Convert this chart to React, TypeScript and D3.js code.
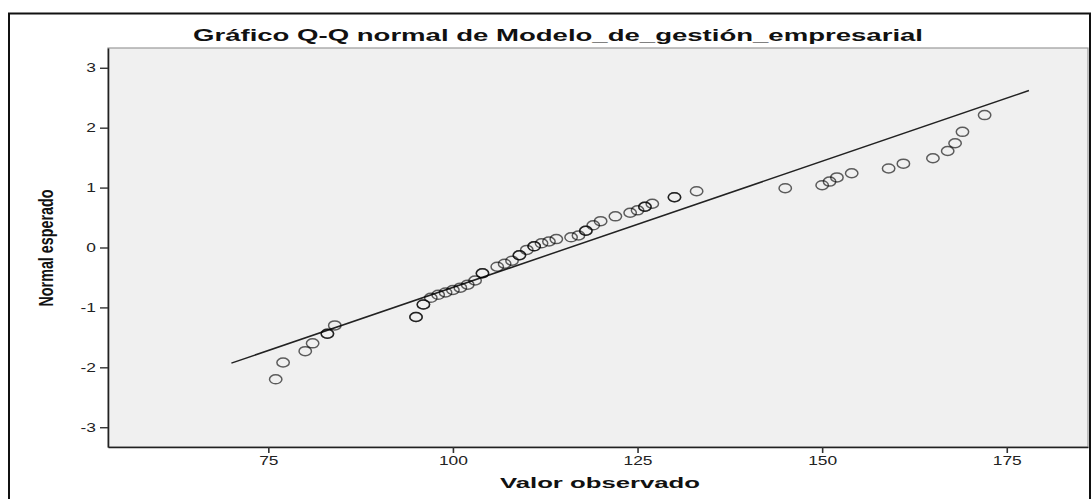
import * as d3 from "d3";
import { useEffect, useRef } from "react";

// values (ties repeated so they overdraw darker)
const observed = [
  76, 77, 80, 81, 83, 83, 84, 95, 95, 96, 96, 97, 98, 99, 100, 101, 102, 103,
  104, 104, 106, 107, 108, 109, 109, 110, 111, 111, 112, 113, 114, 116, 117,
  118, 118, 119, 120, 122, 124, 125, 126, 126, 127, 130, 130, 133, 145, 150,
  151, 152, 154, 159, 161, 165, 167, 168, 169, 172,
];
const expected = [
  -2.2, -1.92, -1.73, -1.6, -1.44, -1.44, -1.3, -1.16, -1.16, -0.95, -0.95,
  -0.84, -0.79, -0.75, -0.71, -0.67, -0.62, -0.55, -0.43, -0.43, -0.32, -0.27,
  -0.22, -0.13, -0.13, -0.04, 0.02, 0.02, 0.07, 0.1, 0.14, 0.17, 0.2, 0.28,
  0.28, 0.37, 0.44, 0.52, 0.58, 0.62, 0.68, 0.68, 0.73, 0.84, 0.84, 0.94, 0.99,
  1.04, 1.1, 1.17, 1.24, 1.32, 1.4, 1.49, 1.61, 1.74, 1.93, 2.21,
];
const refLineX = [70, 178];
const refLineY = [-1.93, 2.62];
const xTicks = [75, 100, 125, 150, 175];
const yTicks = [-3, -2, -1, 0, 1, 2, 3];

const title = "Gráfico Q-Q normal de Modelo_de_gestión_empresarial";
const xLabel = "Valor observado";
const yLabel = "Normal esperado";

const App = () => {
  const ref = useRef<SVGSVGElement>(null);

  useEffect(() => {
    const svg = d3.select(ref.current);
    svg.selectAll("*").remove();

    const left = 108,
      right = 1088,
      top = 48,
      bottom = 447;

    const x = d3.scaleLinear().domain([53.29, 186]).range([left, right]);
    const y = d3.scaleLinear().domain([-3.33, 3.33]).range([bottom, top]);

    // outer frame
    svg
      .append("rect")
      .attr("x", 9)
      .attr("y", 13.5)
      .attr("width", 1081)
      .attr("height", 500)
      .attr("fill", "white")
      .attr("stroke", "#111")
      .attr("stroke-width", 2);

    // title
    svg
      .append("text")
      .attr("x", 558)
      .attr("y", 41)
      .attr("text-anchor", "middle")
      .attr("font-family", "Liberation Sans, Arial, sans-serif")
      .attr("font-weight", "bold")
      .attr("font-size", 17)
      .attr("textLength", 730)
      .attr("lengthAdjust", "spacingAndGlyphs")
      .attr("fill", "#111")
      .text(title);

    // plot background
    svg
      .append("rect")
      .attr("x", left)
      .attr("y", top)
      .attr("width", right - left)
      .attr("height", bottom - top)
      .attr("fill", "#f0f0f0")
      .attr("stroke", "#9a9a9a")
      .attr("stroke-width", 1.2);

    // axes
    const xAxis = svg
      .append("g")
      .attr("transform", `translate(0,${bottom})`)
      .call(
        d3
          .axisBottom(x)
          .tickValues(xTicks)
          .tickFormat((d) => String(d))
          .tickSize(6)
          .tickSizeOuter(0)
      );
    xAxis.select(".domain").attr("stroke", "#222").attr("stroke-width", 1.6);
    xAxis.selectAll(".tick line").attr("stroke", "#333").attr("stroke-width", 1.6);
    xAxis
      .selectAll(".tick text")
      .attr("y", 0)
      .attr("dy", 0)
      .attr("transform", "translate(0,18) scale(1.45,1)")
      .attr("font-family", "Liberation Sans, Arial, sans-serif")
      .attr("font-size", 12)
      .attr("fill", "#222");

    const yAxis = svg
      .append("g")
      .attr("transform", `translate(${left},0)`)
      .call(
        d3
          .axisLeft(y)
          .tickValues(yTicks)
          .tickFormat((d) => String(d))
          .tickSize(8)
          .tickSizeOuter(0)
      );
    yAxis.select(".domain").attr("stroke", "#222").attr("stroke-width", 1.6);
    yAxis.selectAll(".tick line").attr("stroke", "#333").attr("stroke-width", 1.4);
    yAxis
      .selectAll(".tick text")
      .attr("x", 0)
      .attr("dy", "0.35em")
      .attr("transform", "translate(-12,0) scale(1.45,1)")
      .attr("font-family", "Liberation Sans, Arial, sans-serif")
      .attr("font-size", 12)
      .attr("fill", "#222");

    // axis titles
    svg
      .append("text")
      .attr("x", 600)
      .attr("y", 488)
      .attr("text-anchor", "middle")
      .attr("font-family", "Liberation Sans, Arial, sans-serif")
      .attr("font-weight", "bold")
      .attr("font-size", 15)
      .attr("textLength", 200)
      .attr("lengthAdjust", "spacingAndGlyphs")
      .attr("fill", "#111")
      .text(xLabel);

    svg
      .append("text")
      .attr("transform", "translate(53,248) rotate(-90)")
      .attr("text-anchor", "middle")
      .attr("font-family", "Liberation Sans Narrow, Arial Narrow, sans-serif")
      .attr("font-stretch", "condensed")
      .attr("font-weight", "bold")
      .attr("font-size", 20)
      .attr("textLength", 117)
      .attr("lengthAdjust", "spacingAndGlyphs")
      .attr("fill", "#111")
      .text(yLabel);

    // reference line
    const line = d3
      .line<number>()
      .x((d) => x(d))
      .y((_, i) => y(refLineY[i]));
    svg
      .append("path")
      .attr("d", line(refLineX))
      .attr("fill", "none")
      .attr("stroke", "#222")
      .attr("stroke-width", 1.5);

    // points
    svg
      .append("g")
      .selectAll("ellipse")
      .data(observed)
      .join("ellipse")
      .attr("cx", (d) => x(d))
      .attr("cy", (_, i) => y(expected[i]))
      .attr("rx", 6.2)
      .attr("ry", 4.5)
      .attr("fill", "none")
      .attr("stroke", "#000")
      .attr("stroke-opacity", 0.62)
      .attr("stroke-width", 1.5);
  }, []);

  return (
    <svg
      ref={ref}
      width={1092}
      height={499}
      style={{ position: "absolute", left: 0, top: 0, display: "block" }}
    />
  );
};

export default App;
